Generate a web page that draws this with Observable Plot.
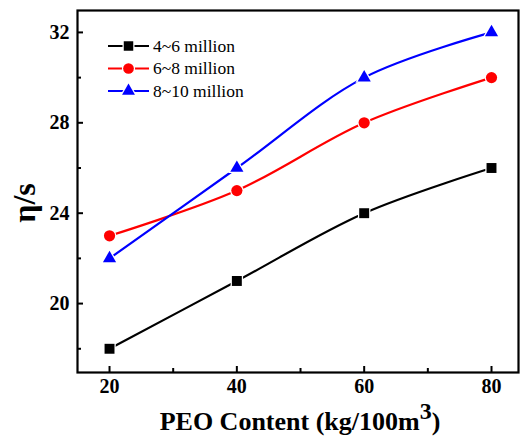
<!DOCTYPE html>
<html><head><meta charset="utf-8">
<script src="https://cdn.jsdelivr.net/npm/d3@7"></script>
<script src="https://cdn.jsdelivr.net/npm/@observablehq/plot@0.6"></script>
<style>
body{margin:0;background:#fff}
#wrap{position:relative;width:522px;height:438px}
#wrap svg{position:absolute;left:0;top:0}
</style>
</head><body><div id="wrap"></div>
<script>
const peo = [20, 40, 60, 80];
const seriesNames = ["4~6 million", "6~8 million", "8~10 million"];
const eta46 = [18, 21, 24, 26];
const eta68 = [23, 25, 28, 30];
const eta810 = [22, 26, 30, 32];
const colors = ["#000000", "#ff0000", "#0000ff"];
const symbols = ["square", "circle", "triangle"];
const xTicks = [20, 40, 60, 80];
const xMinor = [30, 50, 70];
const yTicks = [20, 24, 28, 32];
const yMinor = [18, 22, 26, 30];
const xTitle = "PEO Content (kg/100m";
const xTitleSup = "3";
const yTitle = "η/s";

const allSeries = [eta46, eta68, eta810];
const data = [];
allSeries.forEach((vals, si) => vals.forEach((v, i) => data.push({x: peo[i], y: v, s: seriesNames[si]})));

const FONT = "Liberation Serif";

const plot = Plot.plot({
  width: 522, height: 438,
  marginLeft: 77, marginTop: 10, marginRight: 4, marginBottom: 66,
  style: {background: "#fff", fontFamily: FONT},
  x: {domain: [14.97, 84.24]},
  y: {domain: [16.95, 32.97]},
  color: {domain: seriesNames, range: colors},
  symbol: {domain: seriesNames, range: symbols},
  marks: [
    Plot.line(data, {x: "x", y: "y", z: "s", stroke: "s", strokeWidth: 2.2, curve: "catmull-rom"}),
    Plot.dot(data.filter(d => d.s !== seriesNames[2]), {x: "x", y: "y", fill: "s", symbol: "s", r: 5.6, stroke: "white", strokeWidth: 2.5, paintOrder: "stroke"}),
    Plot.dot(data.filter(d => d.s === seriesNames[2]), {x: "x", y: "y", fill: "s", symbol: "s", r: 4.9, stroke: "white", strokeWidth: 2.5, paintOrder: "stroke"}),
    Plot.axisX({ticks: xTicks, tickSize: -6, tickPadding: 12, tickFormat: d => d, fontSize: 20, fontWeight: "bold", label: null, strokeWidth: 2}),
    Plot.axisX({ticks: xMinor, tickSize: -4, tickFormat: () => "", label: null, strokeWidth: 2}),
    Plot.axisY({ticks: yTicks, tickSize: -6, tickPadding: 14, tickFormat: d => d, fontSize: 20, fontWeight: "bold", label: null, strokeWidth: 2}),
    Plot.axisY({ticks: yMinor, tickSize: -4, tickFormat: () => "", label: null, strokeWidth: 2}),
    Plot.frame({stroke: "#000", strokeWidth: 2.2})
  ]
});
document.getElementById("wrap").appendChild(plot);

// titles and legend overlay
const svg = d3.select("#wrap").append("svg").attr("width", 522).attr("height", 438)
  .style("pointer-events", "none");
const xt = svg.append("text").attr("x", 300).attr("y", 430).attr("text-anchor", "middle")
  .attr("font-size", 26).attr("font-weight", "bold");
xt.append("tspan").text(xTitle);
xt.append("tspan").attr("dy", -11).attr("font-size", 24).text(xTitleSup);
xt.append("tspan").attr("dy", 11).text(")");

svg.append("text").attr("transform", "translate(35,203) rotate(-90)").attr("text-anchor", "middle")
  .attr("font-size", 32).attr("font-weight", "bold").text(yTitle);

const lg = svg.append("g");
seriesNames.forEach((name, i) => {
  const y = 46 + i * 22.5;
  lg.append("line").attr("x1", 108).attr("x2", 149).attr("y1", y).attr("y2", y)
    .attr("stroke", colors[i]).attr("stroke-width", 2.2);
  const sym = d3.symbol().type([d3.symbolSquare, d3.symbolCircle, d3.symbolTriangle][i])
    .size(i === 2 ? 72 : 90);
  lg.append("path").attr("d", sym()).attr("transform", `translate(128.5,${y})`)
    .attr("fill", colors[i]).attr("stroke", "white").attr("stroke-width", 2.5).attr("paint-order", "stroke");
  lg.append("text").attr("x", 153).attr("y", y + 5.5).attr("font-size", 17.5).text(name);
});

d3.selectAll("#wrap svg, #wrap text").attr("font-family", FONT).style("font-family", FONT);
</script>
</body></html>
